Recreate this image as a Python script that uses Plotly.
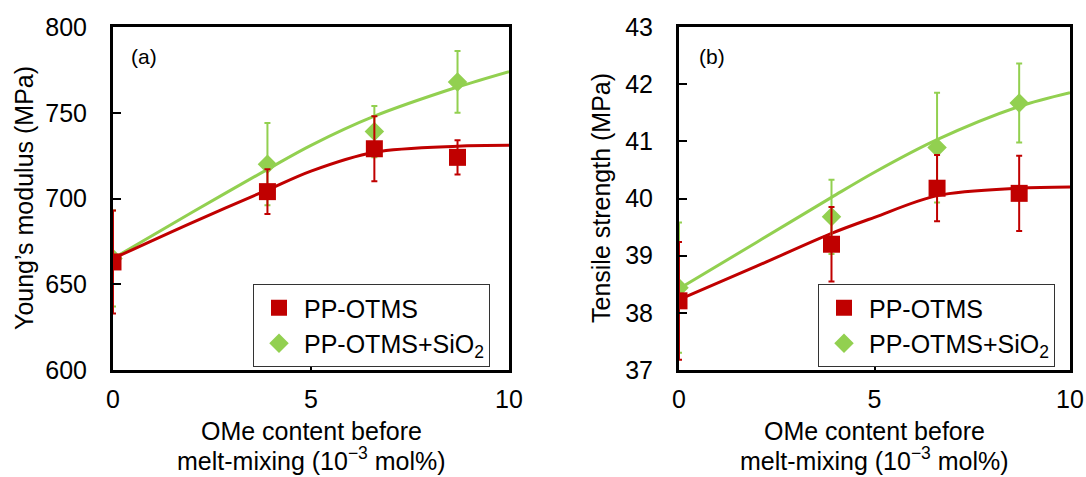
import plotly.graph_objects as go

# OMe content before melt-mixing (10^-3 mol%)
ome = [0, 3.9, 6.6, 8.7]

# (a) Young's modulus (MPa)
modulus_otms = [663, 704, 729, 724]
modulus_otms_err = [30, 13, 19, 10]
modulus_sio2 = [665, 720, 739, 768]
modulus_sio2_err = [28, 24, 15, 18]

# (b) Tensile strength (MPa)
strength_otms = [38.21, 39.2, 40.18, 40.09]
strength_otms_err = [1.03, 0.65, 0.58, 0.66]
strength_sio2 = [38.44, 39.68, 40.89, 41.67]
strength_sio2_err = [1.14, 0.65, 0.96, 0.69]

# Fitted trend curves (support points, smoothed by spline)
fit_x = [0, 2, 3.9, 5, 6.6, 8.7, 10]
modulus_otms_fit = [665, 686, 705, 716, 727, 730.5, 731]
modulus_sio2_fit = [665, 692, 717, 731, 748, 765, 774]
strength_otms_fit = [38.23, 38.82, 39.39, 39.67, 40.05, 40.18, 40.2]
strength_sio2_fit = [38.42, 39.24, 40.02, 40.46, 41.03, 41.61, 41.85]

RED = "#C00000"
GREEN = "#92D050"
FONT = "Liberation Sans, Arial, sans-serif"
FS = 25
W, H = 1086, 477


def px(x):
    return x / W


def py(y):
    return 1 - y / H


fig = go.Figure()


def add_panel(xa, ya, legend, otms, otms_err, sio2, sio2_err, otms_fit, sio2_fit):
    fig.add_trace(go.Scatter(x=fit_x, y=sio2_fit, mode="lines", xaxis=xa, yaxis=ya,
                             line=dict(color=GREEN, width=3, shape="spline", smoothing=0.9),
                             showlegend=False, hoverinfo="skip"))
    fig.add_trace(go.Scatter(x=fit_x, y=otms_fit, mode="lines", xaxis=xa, yaxis=ya,
                             line=dict(color=RED, width=3, shape="spline", smoothing=0.9),
                             showlegend=False, hoverinfo="skip"))
    fig.add_trace(go.Scatter(x=ome, y=sio2, mode="markers", xaxis=xa, yaxis=ya,
                             marker=dict(symbol="diamond", size=15, color=GREEN),
                             error_y=dict(type="data", array=sio2_err, color=GREEN,
                                          thickness=2, width=3),
                             name="PP-OTMS+SiO<sub>2</sub>", legend=legend,
                             legendrank=2))
    fig.add_trace(go.Scatter(x=ome, y=otms, mode="markers", xaxis=xa, yaxis=ya,
                             marker=dict(symbol="square", size=17, color=RED),
                             error_y=dict(type="data", array=otms_err, color=RED,
                                          thickness=2, width=3),
                             name="PP-OTMS", legend=legend, legendrank=1))


add_panel("x", "y", "legend", modulus_otms, modulus_otms_err, modulus_sio2,
          modulus_sio2_err, modulus_otms_fit, modulus_sio2_fit)
add_panel("x2", "y2", "legend2", strength_otms, strength_otms_err, strength_sio2,
          strength_sio2_err, strength_otms_fit, strength_sio2_fit)

axis_common = dict(showline=True, linecolor="black", linewidth=3, mirror=True,
                   ticks="inside", ticklen=8, tickwidth=1.5, tickcolor="black",
                   showgrid=False, zeroline=False, automargin=False,
                   tickfont=dict(family=FONT, size=FS, color="black"))

top, bottom = 27, 370
legend_common = dict(xanchor="left", yanchor="top", bgcolor="white",
                     bordercolor="#333333", borderwidth=1,
                     font=dict(family=FONT, size=FS, color="black"),
                     traceorder="normal", tracegroupgap=0, itemwidth=40,
                     entrywidth=208)
fig.update_layout(
    width=W, height=H,
    margin=dict(l=0, r=0, t=0, b=0, autoexpand=False),
    plot_bgcolor="white", paper_bgcolor="white",
    font=dict(family=FONT, size=FS, color="black"),
    xaxis=dict(domain=[px(113), px(509)], range=[0, 10], dtick=5,
               ticklabelstandoff=5, anchor="y", **axis_common),
    yaxis=dict(domain=[py(bottom), py(top)], range=[600, 800], dtick=50,
               ticklabelstandoff=18, anchor="x", **axis_common),
    xaxis2=dict(domain=[px(679), px(1070)], range=[0, 10], dtick=5,
                ticklabelstandoff=5, anchor="y2", **axis_common),
    yaxis2=dict(domain=[py(bottom), py(top)], range=[37, 43], dtick=1,
                ticklabelstandoff=18, anchor="x2", **axis_common),
    legend=dict(x=px(253), y=py(284), **legend_common),
    legend2=dict(x=px(818), y=py(284), **legend_common),
)

annotations = [
    dict(text="(a)", x=px(129), y=py(56), xanchor="left", yanchor="middle",
         font=dict(size=21)),
    dict(text="(b)", x=px(697), y=py(56), xanchor="left", yanchor="middle",
         font=dict(size=21)),
    dict(text="Young’s modulus (MPa)", x=px(24), y=py(198), textangle=-90,
         xanchor="center", yanchor="middle"),
    dict(text="Tensile strength (MPa)", x=px(601), y=py(198), textangle=-90,
         xanchor="center", yanchor="middle"),
]
for cx in (311, 874.5):
    annotations.append(dict(text="OMe content before", x=px(cx), y=py(431),
                            xanchor="center", yanchor="middle"))
    annotations.append(dict(text="melt-mixing (10<sup>−3</sup> mol%)", x=px(cx),
                            y=py(459), xanchor="center", yanchor="middle"))
for a in annotations:
    size = a.get("font", {}).get("size", FS)
    a.update(xref="paper", yref="paper", showarrow=False,
             font=dict(family=FONT, color="black", size=size))
fig.update_layout(annotations=annotations)

fig.write_html("out.html")
